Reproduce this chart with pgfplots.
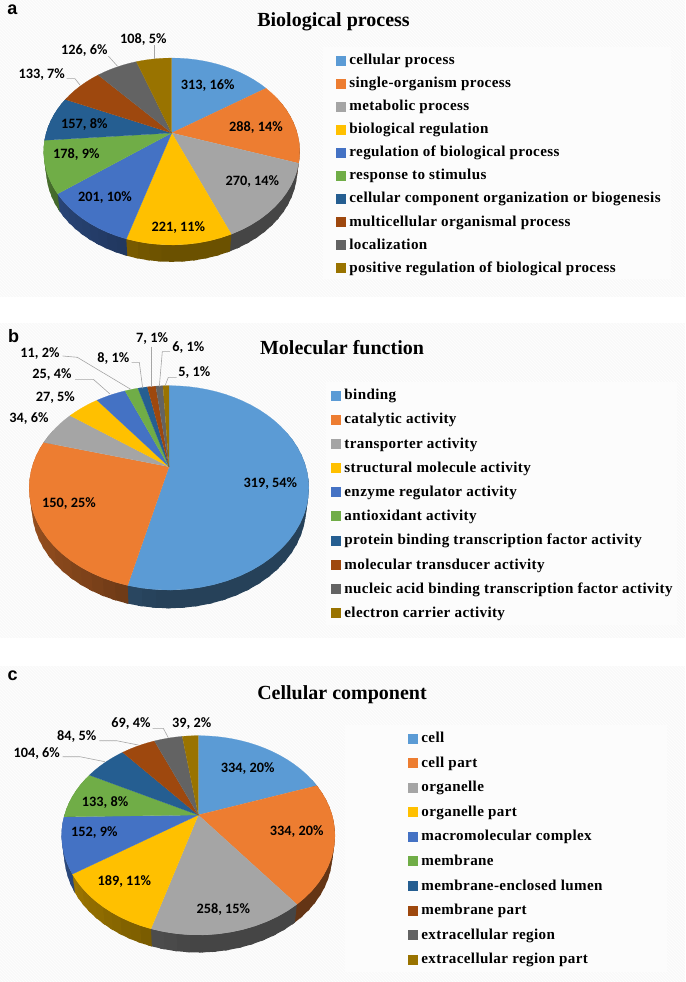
\documentclass[border=0pt]{standalone}
\usepackage{pgfplots}
\pgfplotsset{compat=1.18}
\usepackage{fontspec}
\setmainfont{Liberation Serif}
\newfontfamily\labfont{Carlito}
\newfontfamily\letfont{Liberation Sans}
\newfontfamily\legfont[LetterSpace=2.5]{Liberation Serif}
\usetikzlibrary{patterns}
\definecolor{c1}{HTML}{5B9BD5}
\definecolor{c2}{HTML}{ED7D31}
\definecolor{c3}{HTML}{A5A5A5}
\definecolor{c4}{HTML}{FFC000}
\definecolor{c5}{HTML}{4472C4}
\definecolor{c6}{HTML}{70AD47}
\definecolor{c7}{HTML}{255E91}
\definecolor{c8}{HTML}{9E480E}
\definecolor{c9}{HTML}{636363}
\definecolor{c10}{HTML}{997300}
\colorlet{leadc}{black!35}
% #1 values, #2 cx, #3 cy, #4 A, #5 B, #6 k, #7 d : rim of the pie is a perspective view of a circle
\newcommand{\PieSlices}[7]{%
  \gdef\psum{0}%
  \foreach \v in {#1}{\pgfmathsetmacro\tmp{\psum+\v}\xdef\psum{\tmp}}%
  \gdef\cum{0}\gdef\idx{0}%
  \foreach \v in {#1}{%
    \pgfmathtruncatemacro\tmp{\idx+1}\xdef\idx{\tmp}%
    \pgfmathsetmacro\ts{\cum/\psum*360}%
    \pgfmathsetmacro\tmp{\cum+\v}\xdef\cum{\tmp}%
    \pgfmathsetmacro\te{\cum/\psum*360}%
    \pgfmathtruncatemacro\nn{ceil((\te-\ts)/5)+1}%
    \foreach \j in {1,...,\nn}{%
      \pgfmathsetmacro\ta{\ts+(\j-1)*(\te-\ts)/\nn}%
      \pgfmathsetmacro\tb{\ts+\j*(\te-\ts)/\nn+1.5}%
      \pgfmathtruncatemacro\vis{(cos(\ta)<0.35||cos(\tb)<0.35)?1:0}%
      \ifnum\vis=1
        \pgfmathsetmacro\wa{1+#6*cos(\ta)}%
        \pgfmathsetmacro\wb{1+#6*cos(\tb)}%
        \pgfmathsetmacro\xa{#2+#4*sin(\ta)/\wa}%
        \pgfmathsetmacro\ya{#3-#5*cos(\ta)/\wa}%
        \pgfmathsetmacro\xb{#2+#4*sin(\tb)/\wb}%
        \pgfmathsetmacro\yb{#3-#5*cos(\tb)/\wb}%
        \pgfmathsetmacro\xc{#2+0.98*#4*sin(\tb)/\wb}%
        \pgfmathsetmacro\yc{#3-0.98*#5*cos(\tb)/\wb+#7}%
        \pgfmathsetmacro\xd{#2+0.98*#4*sin(\ta)/\wa}%
        \pgfmathsetmacro\yd{#3-0.98*#5*cos(\ta)/\wa+#7}%
        \pgfmathtruncatemacro\shade{42+24*max(0,-sin(\ta))}%
        \edef\cmd{\noexpand\addplot[forget plot,fill=c\idx!\shade!black,draw=none] coordinates {(\xa,\ya) (\xb,\yb) (\xc,\yc) (\xd,\yd)};}\cmd
      \fi
    }%
  }%
  \gdef\cum{0}\gdef\idx{0}%
  \foreach \v in {#1}{%
    \pgfmathtruncatemacro\tmp{\idx+1}\xdef\idx{\tmp}%
    \pgfmathsetmacro\ts{\cum/\psum*360}%
    \pgfmathsetmacro\tmp{\cum+\v}\xdef\cum{\tmp}%
    \pgfmathsetmacro\te{\cum/\psum*360}%
    \pgfmathtruncatemacro\nn{ceil((\te-\ts)/5)+1}%
    \gdef\rim{}%
    \foreach \j in {0,...,\nn}{%
      \pgfmathsetmacro\t{\ts+\j*(\te-\ts)/\nn}%
      \pgfmathsetmacro\w{1+#6*cos(\t)}%
      \pgfmathsetmacro\xa{#2+#4*sin(\t)/\w}%
      \pgfmathsetmacro\ya{#3-#5*cos(\t)/\w}%
      \xdef\rim{\rim (\xa,\ya)}%
    }%
    \edef\cmd{\noexpand\addplot[fill=c\idx,draw=c\idx,line width=0.2pt] coordinates {(#2,#3) \rim};}\cmd
  }%
}
\newcommand{\lab}[2]{\node[font=\labfont\bfseries\fontsize{14.3}{16}\selectfont,text=black,inner sep=0pt] at (axis cs:#1) {#2};}
\newcommand{\lead}[1]{\addplot[forget plot,draw=leadc,line width=0.6pt] coordinates {#1};}
\pgfplotsset{
  canvas/.style={
    at={(0pt,0pt)},anchor=south west,scale only axis,width=685pt,height=982pt,
    xmin=0,xmax=685,ymin=0,ymax=982,y dir=reverse,hide axis,clip=false,
    legend cell align=left,
    legend image code/.code={\fill[##1] (0pt,-4.5pt) rectangle (9pt,4.5pt);},
  },
  legst/.style={legend style={at={(axis cs:#1)},anchor=north west,draw=none,fill=none,inner sep=0pt,
     /tikz/every odd column/.append style={column sep=2pt},
     font=\legfont\bfseries\fontsize{15.1}{17}\selectfont}},
}
\begin{document}
\begin{tikzpicture}[x=1pt,y=1pt]
\path[use as bounding box] (0,0) rectangle (685,982);
\foreach \ya/\yb in {0/297,323/638,666/982}{
  \fill[black!2.5] (0,982-\ya) rectangle (685,982-\yb);
  \fill[pattern=north west lines,pattern color=white] (0,982-\ya) rectangle (685,982-\yb);
}
\fill[white!99!black] (323,982-47) rectangle (671,982-279);
\fill[white!99!black] (326,982-382) rectangle (677,982-625);
\fill[white!99!black] (345,982-725) rectangle (667,982-972);
\node[font=\letfont\bfseries\fontsize{18}{20}\selectfont] at (12.5,982-10) {a};
\node[font=\letfont\bfseries\fontsize{18}{20}\selectfont] at (13.5,982-336) {b};
\node[font=\letfont\bfseries\fontsize{18}{20}\selectfont] at (12.7,982-676) {c};
\node[font=\bfseries\fontsize{20}{24}\selectfont] at (333.5,982-21.5) {Biological process};
\node[font=\bfseries\fontsize{20}{24}\selectfont] at (342,982-348) {Molecular function};
\node[font=\bfseries\fontsize{20}{24}\selectfont] at (342,982-695) {Cellular component};

% ---------- a
\begin{axis}[canvas,legst={336,52},legend style={row sep=7.05pt}]
\PieSlices{313,288,270,221,201,178,157,133,126,108}{171.7}{133}{125.5}{89.8}{0.198}{19.2}
\lead{(66.7,78.7) (75,78.7) (80,85)}
\lead{(108.3,56) (117.3,66)}
\lead{(154.3,45) (154.3,59)}
\legend{cellular process,single-organism process,metabolic process,biological regulation,regulation of biological process,response to stimulus,cellular component organization or biogenesis,multicellular organismal process,localization,positive regulation of biological process}
\lab{207.7,86}{313, 16\%}
\lab{256,127.3}{288, 14\%}
\lab{252.3,181.7}{270, 14\%}
\lab{178.3,227.3}{221, 11\%}
\lab{105,197.3}{201, 10\%}
\lab{76.3,155}{178, 9\%}
\lab{84.3,125}{157, 8\%}
\lab{41.7,75}{133, 7\%}
\lab{84.3,51}{126, 6\%}
\lab{143.3,39.3}{108, 5\%}
\end{axis}

% ---------- b
\begin{axis}[canvas,legst={331,387},legend style={row sep=8.2pt}]
\PieSlices{319,150,34,27,25,11,8,7,6,5}{169}{466.7}{136.8}{97.8}{0.207}{20.8}
\lead{(75,379.3) (93.3,379.3) (110,394)}
\lead{(62.7,356) (77.3,357.3) (130.7,389.3)}
\lead{(131.7,362.3) (139.3,362.3) (142.7,388.3)}
\lead{(151.7,346.7) (151.7,386.7)}
\lead{(170,351.7) (162.3,351.7) (159.3,386.7)}
\lead{(176.7,377.3) (168.3,377.3) (165,386)}
\legend{binding,catalytic activity,transporter activity,structural molecule activity,enzyme regulator activity,antioxidant activity,protein binding transcription factor activity,molecular transducer activity,nucleic acid binding transcription factor activity,electron carrier activity}
\lab{270.3,483.3}{319, 54\%}
\lab{69,504}{150, 25\%}
\lab{29,419}{34, 6\%}
\lab{55.3,397.7}{27, 5\%}
\lab{52,375}{25, 4\%}
\lab{40,353.3}{11, 2\%}
\lab{113.3,358.3}{8, 1\%}
\lab{152,339}{7, 1\%}
\lab{188.3,347.7}{6, 1\%}
\lab{194.3,372.3}{5, 1\%}
\end{axis}

% ---------- c
\begin{axis}[canvas,legst={408,730},legend style={row sep=8.6pt}]
\PieSlices{334,334,258,189,152,133,104,84,69,39}{198.3}{815}{133.8}{95.5}{0.204}{20}
\lead{(62.7,756.7) (80,756.7) (105,761.7)}
\lead{(99.3,740.7) (116.7,740.7) (138.3,745)}
\lead{(152.7,728.3) (163.3,728.3) (168.3,737.7)}
\legend{cell,cell part,organelle,organelle part,macromolecular complex,membrane,membrane-enclosed lumen,membrane part,extracellular region,extracellular region part}
\lab{247.7,769}{334, 20\%}
\lab{296.7,831.7}{334, 20\%}
\lab{223.3,910}{258, 15\%}
\lab{124.3,881.7}{189, 11\%}
\lab{94.3,832.7}{152, 9\%}
\lab{105,802.7}{133, 8\%}
\lab{36.7,753.3}{104, 6\%}
\lab{76.7,736.3}{84, 5\%}
\lab{131,723.7}{69, 4\%}
\lab{191.7,723.3}{39, 2\%}
\end{axis}
\end{tikzpicture}
\end{document}
